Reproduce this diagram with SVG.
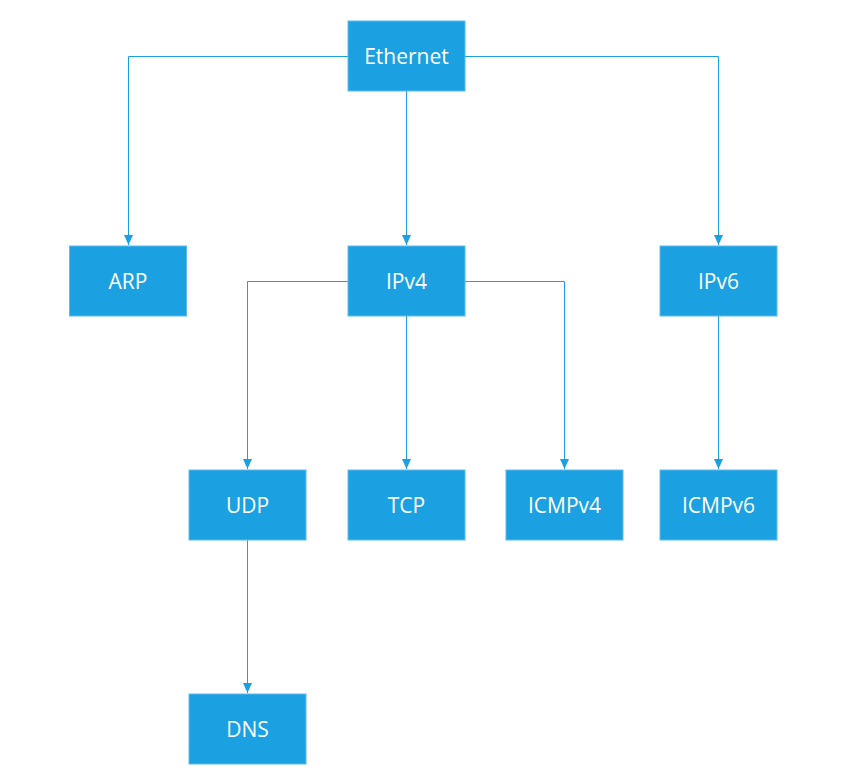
<svg xmlns="http://www.w3.org/2000/svg" width="855" height="778" viewBox="0 0 855 778">
<style>
.n rect{fill:#1ba1e2;stroke:#5cbcec;stroke-width:1}
.n text{fill:#ffffff;font-family:"Open Sans","Noto Sans","DejaVu Sans",sans-serif;font-size:21px;text-anchor:middle;dominant-baseline:central}
.c path{fill:none;stroke:#1ba1e2;stroke-width:1}
</style>
<defs>
<marker id="a" viewBox="0 0 10 10" refX="10" refY="5" markerWidth="10" markerHeight="9" markerUnits="userSpaceOnUse" orient="auto" preserveAspectRatio="none">
<path d="M0,0 L10,5 L0,10 Z" fill="#1ba1e2"/>
</marker>
</defs>
<rect width="855" height="778" fill="#ffffff"/>
<g class="c">
<path d="M348,56.5 H128.5 V245" marker-end="url(#a)"/>
<path d="M406.5,91 V245" marker-end="url(#a)"/>
<path d="M465,56.5 H718.5 V245" marker-end="url(#a)"/>
<path d="M348,281.5 H247.5 V469" marker-end="url(#a)"/>
<path d="M406.5,316 V469" marker-end="url(#a)"/>
<path d="M465,281.5 H564.5 V469" marker-end="url(#a)"/>
<path d="M718.5,316 V469" marker-end="url(#a)"/>
<path d="M247.5,540 V693" marker-end="url(#a)"/>
</g>
<g id="ethernet" class="n"><rect x="348" y="21" width="117" height="70"/><text x="406.5" y="56">Ethernet</text></g>
<g id="arp" class="n"><rect x="69.5" y="246" width="117" height="70"/><text x="128" y="281">ARP</text></g>
<g id="ipv4" class="n"><rect x="348" y="246" width="117" height="70"/><text x="406.5" y="281">IPv4</text></g>
<g id="ipv6" class="n"><rect x="660" y="246" width="117" height="70"/><text x="718.5" y="281">IPv6</text></g>
<g id="udp" class="n"><rect x="189" y="470" width="117" height="70"/><text x="247.5" y="505">UDP</text></g>
<g id="tcp" class="n"><rect x="348" y="470" width="117" height="70"/><text x="406.5" y="505">TCP</text></g>
<g id="icmpv4" class="n"><rect x="506" y="470" width="117" height="70"/><text x="564.5" y="505">ICMPv4</text></g>
<g id="icmpv6" class="n"><rect x="660" y="470" width="117" height="70"/><text x="718.5" y="505">ICMPv6</text></g>
<g id="dns" class="n"><rect x="189" y="694" width="117" height="70"/><text x="247.5" y="729">DNS</text></g>
</svg>
